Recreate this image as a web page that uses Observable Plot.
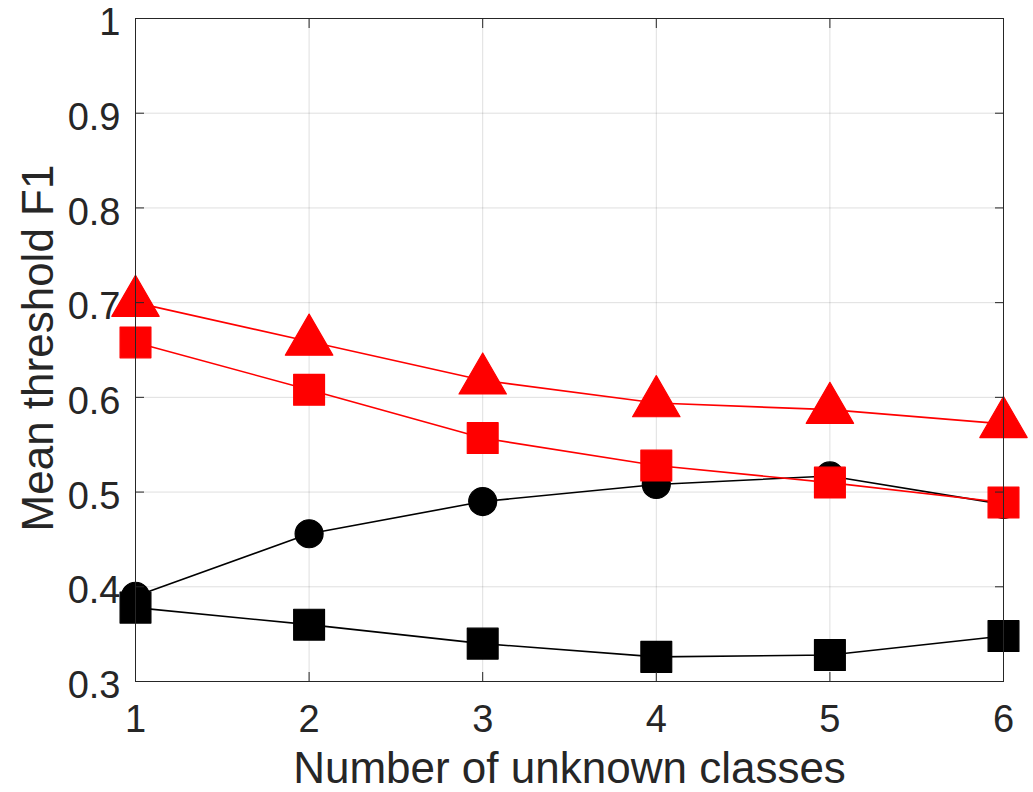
<!DOCTYPE html>
<html><head><meta charset="utf-8">
<script src="https://cdn.jsdelivr.net/npm/d3@7"></script>
<script src="https://cdn.jsdelivr.net/npm/@observablehq/plot@0.6"></script>
<style>body{margin:0;background:#fff;} #chart{width:1033px;height:792px;}</style>
</head><body><div id="chart"></div>
<script>
// x categories
const unknownClasses = [1, 2, 3, 4, 5, 6];
// series values
const blackCircle = [0.390, 0.456, 0.490, 0.508, 0.517, 0.487];
const blackSquare = [0.378, 0.360, 0.340, 0.326, 0.328, 0.348];
const redSquare   = [0.658, 0.608, 0.557, 0.528, 0.510, 0.489];
const redTriangle = [0.700, 0.659, 0.618, 0.594, 0.587, 0.572];
// tick labels
const xTicks = [1, 2, 3, 4, 5, 6];
const yTicks = [0.3, 0.4, 0.5, 0.6, 0.7, 0.8, 0.9, 1];
const xLabel = "Number of unknown classes";
const yLabel = "Mean threshold F1";

const series = [
  {key: "blackCircle", values: blackCircle, color: "#000000", symbol: "circle", r: 14},
  {key: "blackSquare", values: blackSquare, color: "#000000", symbol: "square", r: 17.4},
  {key: "redSquare", values: redSquare, color: "#ff0000", symbol: "square", r: 17.4},
  {key: "redTriangle", values: redTriangle, color: "#ff0000", symbol: "triangle", r: 17.6}
];

const axisColor = "#262626";
const font = "'Liberation Sans', Arial, Helvetica, sans-serif";

const marks = [
  Plot.gridX(xTicks, {stroke: axisColor, strokeOpacity: 0.15, strokeWidth: 1}),
  Plot.gridY(yTicks, {stroke: axisColor, strokeOpacity: 0.15, strokeWidth: 1})
];

for (const s of series) {
  const rows = unknownClasses.map((x, i) => ({x, y: s.values[i]}));
  marks.push(Plot.line(rows, {x: "x", y: "y", stroke: s.color, strokeWidth: 1.6}));
  marks.push(Plot.dot(rows, {x: "x", y: "y", symbol: s.symbol, r: s.r, fill: s.color,
    stroke: s.color, strokeWidth: 1.2, strokeLinejoin: "round"}));
}

marks.push(
  Plot.frame({stroke: axisColor, strokeWidth: 1}),
  // inward ticks
  Plot.axisY(yTicks, {anchor: "left", tickSize: -9, tickFormat: () => "", label: null, stroke: axisColor}),
  Plot.axisY(yTicks, {anchor: "right", tickSize: -9, tickFormat: () => "", label: null, stroke: axisColor}),
  Plot.axisX(xTicks, {anchor: "bottom", tickSize: -9, tickFormat: () => "", label: null, stroke: axisColor}),
  Plot.axisX(xTicks, {anchor: "top", tickSize: -9, tickFormat: () => "", label: null, stroke: axisColor}),
  // tick labels
  Plot.axisY(yTicks, {anchor: "left", tickSize: 0, tickPadding: 15, fontSize: 38, dy: 4.5, label: null,
    fill: axisColor, tickFormat: d => d === 1 ? "1" : String(d)}),
  Plot.axisX(xTicks, {anchor: "bottom", tickSize: 0, tickPadding: 24, fontSize: 38, label: null,
    fill: axisColor, tickFormat: d => String(d)}),
  // axis titles
  Plot.text([xLabel], {frameAnchor: "bottom", text: d => d, dy: 101, lineAnchor: "bottom",
    fontSize: 44, fill: axisColor}),
  Plot.text([yLabel], {frameAnchor: "left", text: d => d, dx: -83, dy: -2, rotate: -90,
    lineAnchor: "bottom", textAnchor: "middle", fontSize: 44, fill: axisColor})
);

const chart = Plot.plot({
  width: 1033,
  height: 792,
  marginLeft: 135,
  marginRight: 30,
  marginTop: 18,
  marginBottom: 111,
  x: {domain: [1, 6], axis: null},
  y: {domain: [0.3, 1], axis: null},
  style: {fontFamily: font, background: "#ffffff", color: axisColor, overflow: "visible"},
  marks
});
document.getElementById("chart").appendChild(chart);
</script>
</body></html>
